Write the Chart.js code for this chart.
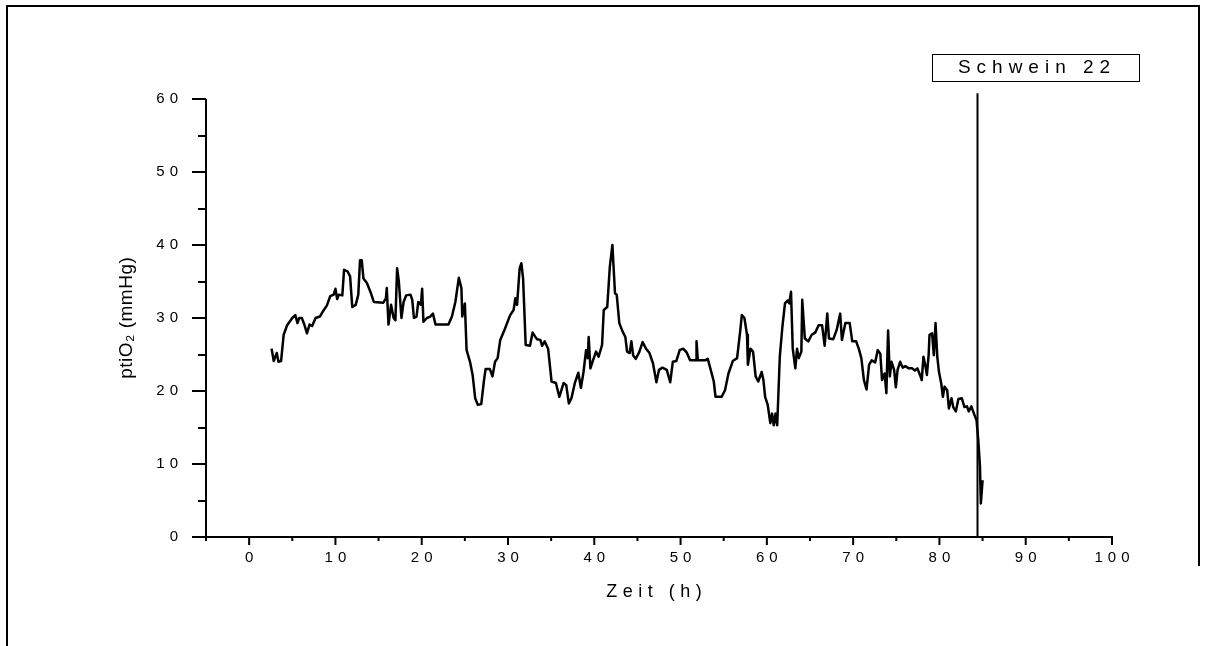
<!DOCTYPE html>
<html>
<head>
<meta charset="utf-8">
<script src="https://cdn.jsdelivr.net/npm/chart.js@4.4.1/dist/chart.umd.min.js"></script>
<style>
  html, body { margin: 0; padding: 0; background: #fff; }
  canvas { display: block; }
</style>
</head>
<body>
<canvas id="chart" width="1206" height="646"></canvas>
<script>
// tissue pO2 recording, pig 22
const hours = [
  2.6, 2.85, 3.2, 3.4, 3.7, 4.0, 4.4, 5.0, 5.35, 5.6, 5.8, 6.1, 6.4, 6.7, 7.0, 7.3, 7.7, 8.2, 8.6, 9.0,
  9.4, 9.8, 10.0, 10.2, 10.4, 10.8, 11.0, 11.4, 11.7, 11.95, 12.35, 12.65, 12.85, 13.05, 13.25, 13.65, 14.05, 14.45, 15.55, 15.85,
  15.95, 16.15, 16.45, 16.75, 16.95, 17.15, 17.35, 17.65, 17.9, 18.2, 18.7, 18.9, 19.1, 19.4, 19.6, 19.9, 20.05, 20.2, 20.6, 21.0,
  21.3, 21.6, 23.1, 23.5, 23.9, 24.3, 24.6, 24.7, 25.0, 25.2, 25.6, 25.9, 26.2, 26.5, 26.9, 27.2, 27.4, 27.9, 28.2, 28.5,
  28.8, 29.1, 29.6, 30.25, 30.65, 30.85, 31.05, 31.35, 31.55, 31.75, 32.05, 32.55, 32.85, 33.35, 33.75, 33.95, 34.25, 34.65, 35.05, 35.55,
  35.95, 36.45, 36.75, 37.05, 37.35, 37.75, 38.15, 38.45, 38.75, 39.05, 39.25, 39.35, 39.55, 39.85, 40.2, 40.5, 40.9, 41.1, 41.5, 41.8,
  42.1, 42.4, 42.6, 42.9, 43.3, 43.6, 43.8, 44.1, 44.3, 44.5, 44.8, 45.2, 45.6, 46.0, 46.4, 46.8, 47.2, 47.5, 47.9, 48.4,
  48.8, 49.1, 49.5, 49.9, 50.3, 50.7, 51.1, 51.8, 51.85, 52.0, 52.85, 53.15, 53.45, 53.85, 54.05, 54.75, 55.15, 55.55, 56.05, 56.55,
  56.9, 57.1, 57.4, 57.7, 57.8, 58.1, 58.4, 58.7, 59.0, 59.4, 59.6, 59.8, 60.1, 60.4, 60.6, 60.8, 61.0, 61.2, 61.5, 61.8,
  62.1, 62.4, 62.6, 62.8, 63.0, 63.3, 63.5, 63.7, 64.0, 64.1, 64.4, 64.8, 65.2, 65.6, 66.0, 66.4, 66.7, 67.0, 67.2, 67.7,
  68.1, 68.5, 68.7, 69.1, 69.6, 69.9, 70.35, 70.65, 70.95, 71.25, 71.55, 71.85, 72.15, 72.55, 72.85, 73.15, 73.35, 73.65, 73.85, 74.05,
  74.25, 74.45, 74.75, 74.95, 75.15, 75.45, 75.75, 76.05, 76.45, 76.85, 77.15, 77.45, 77.75, 77.95, 78.15, 78.35, 78.55, 78.75, 78.85, 79.15,
  79.35, 79.55, 79.75, 79.95, 80.2, 80.4, 80.6, 80.9, 81.1, 81.4, 81.6, 81.9, 82.2, 82.6, 82.9, 83.2, 83.4, 83.7, 84.0, 84.3,
  84.5, 84.7, 84.8, 85.0
];
const ptio2 = [
  25.8, 24.1, 25.2, 24.0, 24.1, 27.7, 29.0, 30.0, 30.4, 29.3, 30.0, 30.0, 29.1, 27.9, 29.1, 28.9, 30.0, 30.2, 31.0, 31.7,
  33.0, 33.2, 34.0, 32.6, 33.2, 33.1, 36.6, 36.4, 35.7, 31.5, 31.8, 33.2, 37.9, 37.9, 35.4, 34.8, 33.6, 32.2, 32.1, 32.7,
  34.1, 29.1, 31.8, 30.0, 29.7, 36.8, 35.0, 30.0, 32.2, 33.1, 33.2, 32.5, 30.0, 30.2, 32.2, 31.8, 34.0, 29.5, 30.0, 30.2,
  30.6, 29.1, 29.1, 30.2, 32.2, 35.5, 34.1, 30.2, 32.0, 25.6, 24.0, 22.2, 19.0, 18.1, 18.2, 21.3, 23.0, 23.0, 22.0, 24.0,
  24.5, 27.0, 28.4, 30.4, 31.1, 32.7, 31.8, 36.8, 37.5, 35.4, 26.3, 26.2, 28.0, 27.1, 27.0, 26.2, 26.8, 25.8, 21.3, 21.1,
  19.2, 21.1, 20.8, 18.3, 19.0, 21.1, 22.5, 20.4, 22.6, 25.6, 24.5, 27.4, 23.1, 24.2, 25.4, 24.7, 26.3, 31.1, 31.5, 37.0,
  40.0, 33.4, 33.2, 29.3, 28.1, 27.4, 25.4, 25.2, 26.8, 24.9, 24.4, 25.3, 26.7, 25.8, 25.2, 23.8, 21.2, 22.9, 23.2, 22.9,
  21.2, 24.0, 24.1, 25.6, 25.8, 25.3, 24.2, 24.2, 26.8, 24.2, 24.2, 24.4, 23.1, 21.3, 19.2, 19.2, 20.1, 22.4, 24.1, 24.5,
  28.1, 30.4, 30.0, 27.7, 23.6, 25.8, 25.4, 22.0, 21.3, 22.6, 21.5, 19.2, 18.1, 15.6, 16.9, 15.3, 16.9, 15.3, 24.7, 28.8,
  32.0, 32.4, 32.0, 33.6, 25.8, 23.1, 25.8, 24.5, 25.4, 32.5, 27.2, 26.8, 27.7, 28.0, 29.0, 29.0, 26.2, 30.6, 27.2, 27.1,
  28.4, 30.6, 27.0, 29.3, 29.3, 26.8, 26.8, 25.8, 24.5, 21.5, 20.2, 23.6, 24.2, 23.9, 25.6, 25.1, 21.5, 22.4, 19.7, 28.3,
  22.0, 24.0, 22.9, 20.5, 22.9, 24.0, 23.2, 23.4, 23.1, 23.1, 22.8, 23.1, 22.2, 21.5, 24.7, 23.6, 22.2, 24.9, 27.7, 27.9,
  24.9, 29.3, 24.7, 22.6, 21.1, 19.2, 20.6, 20.1, 17.6, 19.0, 17.8, 17.2, 18.9, 19.0, 17.8, 17.9, 17.2, 17.9, 16.9, 16.0,
  13.3, 9.6, 4.6, 7.8
];

const xMajor = [0, 10, 20, 30, 40, 50, 60, 70, 80, 90, 100];
const xMinor = [-5, 5, 15, 25, 35, 45, 55, 65, 75, 85, 95];
const yMajor = [0, 10, 20, 30, 40, 50, 60];
const yMinor = [5, 15, 25, 35, 45, 55];

const markerHour = 84.4;
const boxLabel = 'Schwein 22';
const xTitle = 'Zeit (h)';
const yTitle = 'ptiO₂ (mmHg)';

const FONT = '"Liberation Sans", Arial, sans-serif';

function spacedText(ctx, text, x, y, spacing, align) {
  ctx.letterSpacing = spacing + 'px';
  const w = ctx.measureText(text).width - spacing;
  let sx = x;
  if (align === 'center') sx = x - w / 2;
  else if (align === 'right') sx = x - w;
  ctx.textAlign = 'left';
  ctx.fillText(text, sx, y);
  ctx.letterSpacing = '0px';
}

// axes, ticks, frame and label box in the old Origin style
const originAxes = {
  id: 'originAxes',
  afterDatasetsDraw(chart) {
    const ctx = chart.ctx;
    const xs = chart.scales.x;
    const ys = chart.scales.y;
    const x0 = xs.getPixelForValue(-5);
    const y0 = ys.getPixelForValue(0);
    const yTop = ys.getPixelForValue(60);
    ctx.save();
    ctx.strokeStyle = '#000';
    ctx.fillStyle = '#000';
    ctx.lineCap = 'butt';

    // page frame
    ctx.lineWidth = 2;
    ctx.beginPath();
    ctx.moveTo(7, 646);
    ctx.lineTo(7, 6);
    ctx.lineTo(1199, 6);
    ctx.lineTo(1199, 566);
    ctx.stroke();

    // axis lines
    ctx.beginPath();
    ctx.moveTo(x0, yTop);
    ctx.lineTo(x0, y0);
    ctx.moveTo(x0 - 14, y0);
    ctx.lineTo(xs.getPixelForValue(100) + 1, y0);
    ctx.stroke();

    ctx.beginPath();
    yMajor.forEach(v => {
      const p = Math.round(ys.getPixelForValue(v));
      ctx.moveTo(x0 - 14, p);
      ctx.lineTo(x0, p);
    });
    yMinor.forEach(v => {
      const p = Math.round(ys.getPixelForValue(v));
      ctx.moveTo(x0 - 8, p);
      ctx.lineTo(x0, p);
    });
    xMajor.forEach(v => {
      const p = xs.getPixelForValue(v);
      ctx.moveTo(p, y0);
      ctx.lineTo(p, y0 + 8);
    });
    xMinor.forEach(v => {
      const p = xs.getPixelForValue(v);
      ctx.moveTo(p, y0);
      ctx.lineTo(p, y0 + 4);
    });
    ctx.stroke();

    // tick labels
    ctx.font = '15px ' + FONT;
    ctx.textBaseline = 'middle';
    yMajor.forEach(v => {
      spacedText(ctx, String(v), x0 - 28, ys.getPixelForValue(v), 5, 'right');
    });
    xMajor.forEach(v => {
      spacedText(ctx, String(v), xs.getPixelForValue(v), y0 + 21, 5, 'center');
    });

    // axis titles
    ctx.font = '18px ' + FONT;
    ctx.textBaseline = 'middle';
    spacedText(ctx, xTitle, (x0 + xs.getPixelForValue(100)) / 2 - 5, 592, 5.5, 'center');

    ctx.save();
    ctx.translate(127, (yTop + y0) / 2);
    ctx.rotate(-Math.PI / 2);
    ctx.font = '19px ' + FONT;
    spacedText(ctx, yTitle, 0, 0, 0.5, 'center');
    ctx.restore();

    // end-of-experiment marker and its label box
    const mx = Math.round(xs.getPixelForValue(markerHour)) + 0.5;
    ctx.lineWidth = 2;
    ctx.beginPath();
    ctx.moveTo(mx, ys.getPixelForValue(60.8));
    ctx.lineTo(mx, y0);
    ctx.stroke();

    ctx.lineWidth = 1;
    ctx.strokeRect(932.5, 54.5, 207, 27);
    ctx.font = '19px ' + FONT;
    ctx.textBaseline = 'middle';
    spacedText(ctx, boxLabel, 1034, 68, 6, 'center');
    ctx.restore();
  }
};

const points = hours.map((h, i) => ({ x: h, y: ptio2[i] }));

new Chart(document.getElementById('chart'), {
  type: 'line',
  data: {
    datasets: [{
      data: points,
      borderColor: '#000',
      borderWidth: 2.5,
      borderJoinStyle: 'round',
      pointRadius: 0,
      tension: 0,
      fill: false
    }]
  },
  options: {
    responsive: false,
    animation: false,
    devicePixelRatio: 1,
    layout: { padding: { left: 206, right: 94, top: 99, bottom: 109 } },
    plugins: { legend: { display: false }, tooltip: { enabled: false } },
    scales: {
      x: { type: 'linear', min: -5, max: 100, display: false },
      y: { type: 'linear', min: 0, max: 60, display: false }
    }
  },
  plugins: [originAxes]
});
</script>
</body>
</html>
